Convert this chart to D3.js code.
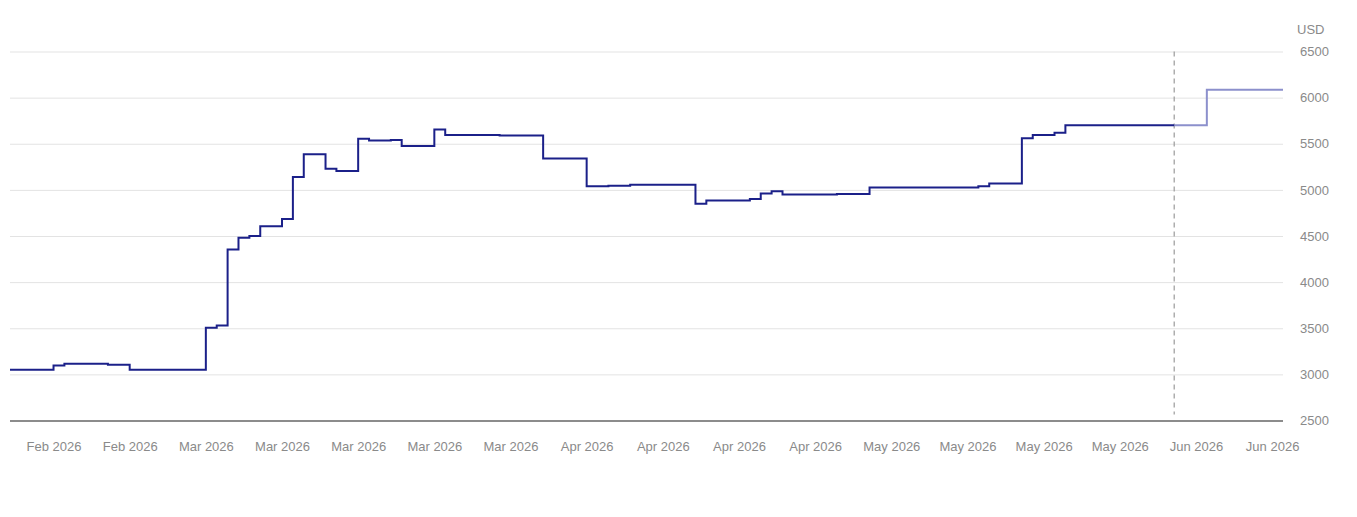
<html lang="en">
<head>
  <meta charset="UTF-8"/>
  <title>USD step chart</title>
  <script src="https://d3js.org/d3.v7.min.js"></script>
  <style>
body {
  margin: 0;
  background: #fff;
  font-family: 'Liberation Sans', Arial, sans-serif;
}

svg {
  display: block;
}

text {
  font-size: 13px;
  fill: #8a8a8a;
}

.grid path {
  stroke-width: 0;
}

.grid .tick line {
  stroke: #e3e3e3;
}

.axis path, .axis line {
  stroke: none;
}

path.baseline {
  stroke: #666;
  stroke-width: 1.5;
}

line#today {
  stroke: #9a9a9a;
  stroke-width: 1.2;
  stroke-dasharray: 5 4;
}

path.actual {
  fill: none;
  stroke: #1b2089;
  stroke-width: 2;
}

path.forecast {
  fill: none;
  stroke: #8c90cc;
  stroke-width: 2;
}
  </style>
</head>
<body>
  <svg width="1357" height="517"></svg>
  <script>
// price history (value holds from each date until the next one)
const dates = [
  '2026-02-12', '2026-02-16', '2026-02-17', '2026-02-21', '2026-02-23',
  '2026-03-02', '2026-03-03', '2026-03-04', '2026-03-05', '2026-03-06',
  '2026-03-07', '2026-03-09', '2026-03-10', '2026-03-11', '2026-03-13',
  '2026-03-14', '2026-03-16', '2026-03-17', '2026-03-19', '2026-03-20',
  '2026-03-23', '2026-03-24', '2026-03-29', '2026-04-02', '2026-04-06',
  '2026-04-08', '2026-04-10', '2026-04-16', '2026-04-17', '2026-04-21',
  '2026-04-22', '2026-04-23', '2026-04-24', '2026-04-29', '2026-05-02',
  '2026-05-12', '2026-05-13', '2026-05-16', '2026-05-17', '2026-05-19',
  '2026-05-20', '2026-05-30'
];
const prices = [
  3050, 3095, 3115, 3105, 3050,
  3505, 3530, 4355, 4480, 4500,
  4605, 4685, 5140, 5385, 5230,
  5205, 5555, 5535, 5540, 5475,
  5655, 5595, 5590, 5340, 5040,
  5045, 5055, 4850, 4885, 4900,
  4960, 4985, 4950, 4955, 5025,
  5040, 5070, 5560, 5595, 5620,
  5700, 5700
];

const forecastDates = ['2026-05-30', '2026-06-02', '2026-06-09'];
const forecastPrices = [5700, 6085, 6085];

const todayDate = '2026-05-30';
const domainDates = ['2026-02-12', '2026-06-09'];

const tickDates = [
  '2026-02-16', '2026-02-23', '2026-03-02', '2026-03-09', '2026-03-16',
  '2026-03-23', '2026-03-30', '2026-04-06', '2026-04-13', '2026-04-20',
  '2026-04-27', '2026-05-04', '2026-05-11', '2026-05-18', '2026-05-25',
  '2026-06-01', '2026-06-08'
];
const yTicks = [2500, 3000, 3500, 4000, 4500, 5000, 5500, 6000, 6500];
const unitLabel = 'USD';

const parse = d3.utcParse('%Y-%m-%d');
const fmt = d3.utcFormat('%b %Y');

const svg = d3.select('svg');

const plotLeft = 10;
const plotRight = 1283;
const plotTop = 51.5;
const plotBottom = 420.5;

const xScale = d3.scaleUtc()
  .domain(domainDates.map(parse))
  .range([plotLeft, plotRight]);

const yScale = d3.scaleLinear()
  .domain([2500, 6500])
  .range([plotBottom, plotTop]);

// horizontal grid lines
svg.append('g')
  .attr('class', 'grid')
  .attr('transform', `translate(${plotLeft}, 0)`)
  .call(d3.axisLeft(yScale)
    .tickValues(yTicks.slice(1))
    .tickSize(-(plotRight - plotLeft))
    .tickFormat('')
  );

// y labels on the right
svg.append('g')
  .attr('class', 'axis')
  .attr('transform', `translate(${plotRight}, 0)`)
  .call(d3.axisRight(yScale)
    .tickValues(yTicks)
    .tickFormat(d3.format('d'))
    .tickSize(0)
    .tickPadding(17)
  )
  .call(g => g.selectAll('text').attr('fill', '#8a8a8a'));

svg.append('text')
  .attr('x', 1297)
  .attr('y', 34)
  .text(unitLabel);

// x labels
svg.append('g')
  .attr('class', 'axis')
  .attr('transform', `translate(0, ${plotBottom})`)
  .call(d3.axisBottom(xScale)
    .tickValues(tickDates.map(parse))
    .tickFormat(fmt)
    .tickSize(0)
    .tickPadding(21)
  )
  .call(g => g.selectAll('text').attr('fill', '#8a8a8a'));

// baseline
svg.append('path')
  .attr('class', 'baseline')
  .attr('d', `M${plotLeft},${yScale(2500) + 0.5}H${plotRight}`);

// today marker
const tx = xScale(parse(todayDate));
svg.append('line')
  .attr('id', 'today')
  .attr('x1', tx)
  .attr('x2', tx)
  .attr('y1', yScale(6500))
  .attr('y2', plotBottom - 6);

const line = d3.line()
  .curve(d3.curveStepAfter)
  .x(d => xScale(d[0]))
  .y(d => yScale(d[1]));

svg.append('path')
  .attr('class', 'forecast')
  .attr('d', line(forecastDates.map((d, i) => [parse(d), forecastPrices[i]])));

svg.append('path')
  .attr('class', 'actual')
  .attr('d', line(dates.map((d, i) => [parse(d), prices[i]])));
  </script>
</body>
</html>
